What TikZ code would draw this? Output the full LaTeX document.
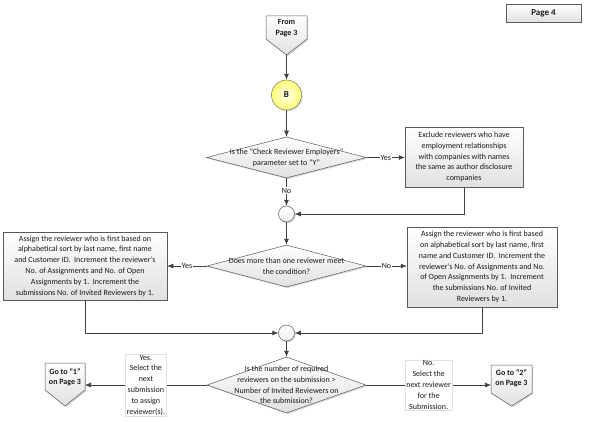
\documentclass[tikz,border=0pt]{standalone}
\usepackage{fontspec}
\setmainfont{Carlito}
\usetikzlibrary{shapes.geometric,shadows,arrows.meta}
\begin{document}
\begin{tikzpicture}[x=1pt,y=-1pt,
  font=\fontsize{8}{10.8}\selectfont,
  every node/.style={text=black!90},
  shade1/.style={top color=white, bottom color=black!12},
  shad/.style={drop shadow={opacity=0.3, shadow xshift=1.2pt, shadow yshift=-1.2pt}},
  procbox/.style={draw=black!65, shade1, shad, align=center, inner sep=1pt, line width=0.5pt},
  decision/.style={diamond, draw=black!65, shade1, shad, inner sep=0pt, line width=0.5pt},
  dtext/.style={align=center, inner sep=0pt},
  junction/.style={circle, draw=black!65, top color=white, bottom color=black!6, shad, minimum size=16pt, inner sep=0pt, line width=0.5pt},
  offpage/.style={draw=black!65, shade1, shad, line width=0.5pt},
  flow/.style={draw=black!75, line width=0.6pt, -{Latex[length=6pt,width=5pt]}},
  lbl/.style={fill=white, inner sep=1pt},
  lblbox/.style={fill=white, draw=black!12, align=center, inner sep=1pt}
]
\useasboundingbox (0,0) rectangle (591,422);

% Page 4
\node[procbox, minimum width=75pt, minimum height=18pt, font=\fontsize{9}{11}\selectfont\bfseries] (page) at (543.5,13) {Page 4};

% From Page 3 off-page connector
\path[offpage] (266,16) -- (307,16) -- (307,39) -- (286.5,55) -- (266,39) -- cycle;
\node[align=center, font=\fontsize{8}{10.5}\selectfont\bfseries, inner sep=0pt] (from) at (286.5,28) {From\\Page 3};
\coordinate (fromtip) at (286.5,55);

% B
\node[circle, draw=black!65, inner color=yellow!8, outer color=yellow!55!white, shad, minimum size=30pt, inner sep=0pt, font=\fontsize{9}{11}\selectfont\bfseries] (B) at (286.5,95) {B};

% Decision 1
\node[decision, minimum width=160pt, minimum height=41pt] (d1) at (286.5,157.5) {};
\node[dtext] (d1t) at (286.5,157.5) {Is the “Check Reviewer Employers”\\parameter set to “Y”};

% Exclude box
\node[procbox, minimum width=118pt, minimum height=60pt] (excl) at (464,157) {Exclude reviewers who have\\employment relationships\\with companies with names\\the same as author disclosure\\companies};

% Junction 2
\node[junction] (j2) at (286.5,214) {};

% Decision 2
\node[decision, minimum width=159pt, minimum height=42pt] (d2) at (286.5,266) {};
\node[dtext] (d2t) at (286.5,266) {Does more than one reviewer meet\\the condition?};

% Left box
\node[procbox, minimum width=164pt, minimum height=68pt] (lbox) at (85,266) {Assign the reviewer who is first based on\\alphabetical sort by last name, first name\\and Customer ID.\ \ Increment the reviewer's\\No. of Assignments and No. of Open\\Assignments by 1.\ \ Increment the\\submissions No. of Invited Reviewers by 1.};

% Right box
\node[procbox, minimum width=150pt, minimum height=80pt] (rbox) at (482,267) {Assign the reviewer who is first based\\on alphabetical sort by last name, first\\name and Customer ID.\ \ Increment the\\reviewer's No. of Assignments and No.\\of Open Assignments by 1.\ \ Increment\\the submissions No. of Invited\\Reviewers by 1.};

% Junction 3
\node[junction] (j3) at (286.5,333) {};

% Decision 3
\node[decision, minimum width=159pt, minimum height=56pt] (d3) at (286.5,385) {};
\node[dtext] (d3t) at (286.5,385) {Is the number of required\\reviewers on the submission >\\Number of Invited Reviewers on\\the submission?};

% Go to 1
\path[offpage] (45,363) -- (85,363) -- (85,390) -- (65,406) -- (45,390) -- cycle;
\node[align=center, font=\fontsize{8}{10.5}\selectfont\bfseries, inner sep=0pt] (g1) at (65,377) {Go to “1”\\on Page 3};
\coordinate (g1in) at (85,385);

% Go to 2
\path[offpage] (491,365) -- (532,365) -- (532,393) -- (511.5,406) -- (491,393) -- cycle;
\node[align=center, font=\fontsize{8}{10.5}\selectfont\bfseries, inner sep=0pt] (g2) at (511.5,378) {Go to “2”\\on Page 3};
\coordinate (g2in) at (491,385);

% Connectors
\draw[flow] (fromtip) -- (B);
\draw[flow] (B) -- (d1);
\draw[flow] (d1.east) -- node[lbl] {Yes} (excl.west |- d1.east);
\draw[flow] (d1.south) -- node[lbl, pos=0.45] {No} (j2);
\draw[flow] (excl.south) |- (j2);
\draw[flow] (j2) -- (d2);
\draw[flow] (d2.west) -- node[lbl] {Yes} (lbox.east |- d2.west);
\draw[flow] (d2.east) -- node[lbl] {No} (rbox.west |- d2.east);
\draw[flow] (lbox.south) |- (j3);
\draw[flow] (rbox.south) |- (j3);
\draw[flow] (j3) -- (d3);
\draw[flow] (d3.west) -- node[lblbox, pos=0.5] {Yes.\\Select the\\next\\submission\\to assign\\reviewer(s).} (g1in);
\draw[flow] (d3.east) -- node[lblbox, pos=0.5] {No.\\Select the\\next reviewer\\for the\\Submission.} (g2in);
\end{tikzpicture}
\end{document}
